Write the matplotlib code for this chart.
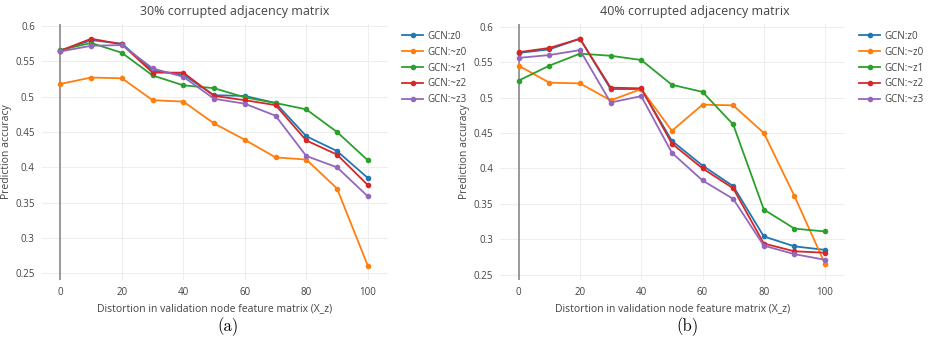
import matplotlib
matplotlib.use("Agg")
from matplotlib import pyplot as plt

# distortion levels on x
distortion = [0, 10, 20, 30, 40, 50, 60, 70, 80, 90, 100]
labels = ["GCN:z0", "GCN:~z0", "GCN:~z1", "GCN:~z2", "GCN:~z3"]
colors = ["#1f77b4", "#ff7f0e", "#2ca02c", "#d62728", "#9467bd"]

# 30% corrupted adjacency
acc30_z0 = [0.565, 0.580, 0.575, 0.537, 0.531, 0.502, 0.501, 0.491, 0.444, 0.423, 0.385]
acc30_nz0 = [0.518, 0.527, 0.526, 0.495, 0.493, 0.462, 0.439, 0.414, 0.411, 0.370, 0.261]
acc30_nz1 = [0.566, 0.576, 0.562, 0.530, 0.516, 0.512, 0.499, 0.491, 0.482, 0.450, 0.410]
acc30_nz2 = [0.565, 0.582, 0.574, 0.534, 0.534, 0.501, 0.495, 0.488, 0.438, 0.418, 0.375]
acc30_nz3 = [0.564, 0.572, 0.573, 0.540, 0.528, 0.497, 0.490, 0.473, 0.416, 0.400, 0.359]

# 40% corrupted adjacency
acc40_z0 = [0.563, 0.568, 0.583, 0.512, 0.512, 0.439, 0.404, 0.375, 0.304, 0.290, 0.285]
acc40_nz0 = [0.545, 0.521, 0.520, 0.496, 0.512, 0.453, 0.490, 0.489, 0.450, 0.361, 0.265]
acc40_nz1 = [0.524, 0.545, 0.562, 0.559, 0.553, 0.518, 0.508, 0.462, 0.342, 0.315, 0.311]
acc40_nz2 = [0.564, 0.570, 0.583, 0.514, 0.513, 0.435, 0.400, 0.372, 0.294, 0.283, 0.281]
acc40_nz3 = [0.556, 0.560, 0.567, 0.493, 0.502, 0.422, 0.383, 0.357, 0.291, 0.279, 0.271]

yticks = [0.25, 0.3, 0.35, 0.4, 0.45, 0.5, 0.55, 0.6]
ytick_labels = ["0.25", "0.3", "0.35", "0.4", "0.45", "0.5", "0.55", "0.6"]
xticks = [0, 20, 40, 60, 80, 100]

plt.rcParams['font.family'] = ['Open Sans', 'DejaVu Sans']
txt = '#444444'

fig = plt.figure(figsize=(9.33, 3.49), dpi=100)

panels = [
    ("30% corrupted adjacency matrix", [acc30_z0, acc30_nz0, acc30_nz1, acc30_nz2, acc30_nz3],
     [41.7 / 933, 0.1977, 346 / 933, 0.7335], (0.2405, 0.6028), 235, 397, "(a)", 228),
    ("40% corrupted adjacency matrix", [acc40_z0, acc40_nz0, acc40_nz1, acc40_nz2, acc40_nz3],
     [500 / 933, 0.1977, 345 / 933, 0.7335], (0.2425, 0.6038), 695, 854, "(b)", 688),
]

for title, series, rect, ylim, title_x, leg_x, cap, cap_x in panels:
    ax = fig.add_axes(rect)
    for vals, lab, col in zip(series, labels, colors):
        ax.plot(distortion, vals, color=col, lw=1.3, marker='o', ms=3, label=lab)
    ax.set_xlim(-6.1, 106.5)
    ax.set_ylim(*ylim)
    ax.set_xticks(xticks)
    ax.set_yticks(yticks)
    ax.set_yticklabels(ytick_labels)
    ax.grid(True, color='#eeeeee', lw=0.8)
    ax.set_axisbelow(True)
    ax.axvline(0, color='#8a8a8a', lw=1.2, zorder=1)
    for s in ax.spines.values():
        s.set_visible(False)
    ax.tick_params(length=0, labelsize=7, colors=txt, pad=5)
    ax.set_xlabel("Distortion in validation node feature matrix (X_z)", fontsize=7.5, color=txt, labelpad=4)
    ax.set_ylabel("Prediction accuracy", fontsize=7.5, color=txt)
    ax.yaxis.set_label_coords(-0.086, 0.5)
    fig.text(title_x / 933, 1 - 12 / 349, title, ha='center', va='center', fontsize=9, color=txt)
    ax.legend(loc='upper left', bbox_to_anchor=(leg_x / 933, 1 - 26 / 349),
              bbox_transform=fig.transFigure, frameon=False, fontsize=7,
              handlelength=2.2, handletextpad=0.4, labelspacing=0.5, borderpad=0,
              labelcolor=txt)
    fig.text(cap_x / 933, 1 - 327 / 349, cap, ha='center', va='center', fontsize=12,
             family=['cmr10', 'DejaVu Serif'])

fig.savefig("out.png", dpi=100)
